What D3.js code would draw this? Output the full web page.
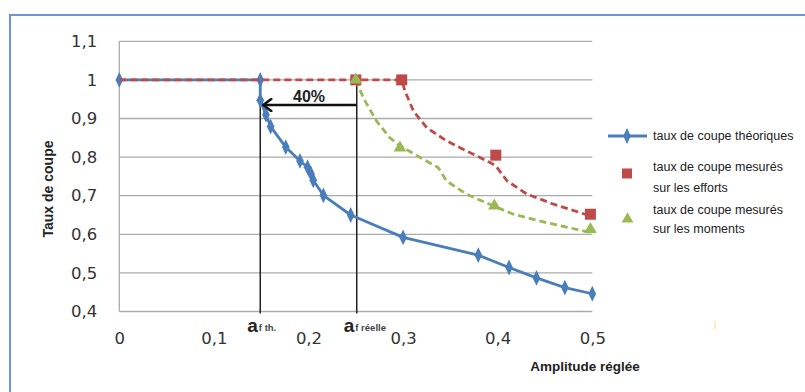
<!DOCTYPE html>
<html>
<head>
<meta charset="utf-8">
<script src="https://cdn.jsdelivr.net/npm/d3@7"></script>
<style>
body { margin: 0; background: #fff; }
</style>
</head>
<body>
<script>
// taux de coupe théoriques
var theoX = [0, 0.149, 0.149, 0.155, 0.160, 0.176, 0.191, 0.199, 0.2026, 0.205, 0.2157, 0.2446, 0.300, 0.3795, 0.412, 0.441, 0.471, 0.500];
var theoY = [1, 1, 0.947, 0.91, 0.879, 0.826, 0.790, 0.774, 0.757, 0.740, 0.701, 0.650, 0.592, 0.546, 0.514, 0.487, 0.462, 0.446];

// mesures (points)
var effortsX = [0.25, 0.2985, 0.398, 0.498];
var effortsY = [1, 1, 0.805, 0.652];
var momentsX = [0.25, 0.2967, 0.3965, 0.498];
var momentsY = [1, 0.824, 0.674, 0.613];

// courbes pointillées
var effortsLineX = [0, 0.2985, 0.302, 0.311, 0.325, 0.346, 0.371, 0.392, 0.398, 0.41, 0.431, 0.459, 0.4975];
var effortsLineY = [1, 1, 0.971, 0.919, 0.876, 0.842, 0.811, 0.786, 0.777, 0.738, 0.704, 0.678, 0.648];
var momentsLineX = [0.25, 0.258, 0.272, 0.286, 0.297, 0.318, 0.337, 0.346, 0.367, 0.395, 0.4165, 0.452, 0.4975];
var momentsLineY = [1, 0.953, 0.893, 0.850, 0.829, 0.799, 0.773, 0.738, 0.704, 0.674, 0.652, 0.630, 0.605];

var xTicks = [0, 0.1, 0.2, 0.3, 0.4, 0.5];
var yTicks = [0.4, 0.5, 0.6, 0.7, 0.8, 0.9, 1, 1.1];
var afTh = 0.149, afReelle = 0.251;
var legendLabels = [["taux de coupe théoriques"], ["taux de coupe mesurés", "sur les efforts"], ["taux de coupe mesurés", "sur les moments"]];

var width = 805, height = 392;
var blue = "#4a7ebb", red = "#be4b48", green = "#98b954";

var svg = d3.select("body").append("svg")
    .attr("width", width)
    .attr("height", height);

// cadre
svg.append("rect")
    .attr("x", 10).attr("y", 15)
    .attr("width", width + 20).attr("height", height + 20)
    .attr("fill", "none")
    .attr("stroke", "#6a97d2")
    .attr("stroke-width", 2);

var x = d3.scaleLinear().domain([0, 0.5]).range([119.3, 592.3]);
var y = d3.scaleLinear().domain([0.4, 1.1]).range([311.5, 41.3]);
var fmt = function(d) { return String(+d.toFixed(1)).replace(".", ","); };

// grille horizontale
svg.append("g")
    .selectAll("line")
    .data(yTicks)
    .enter()
    .append("line")
    .attr("x1", x(0)).attr("x2", x(0.5))
    .attr("y1", function(d) { return y(d); })
    .attr("y2", function(d) { return y(d); })
    .attr("stroke", "#ababab")
    .attr("stroke-width", 1.3);

svg.append("line")
    .attr("x1", x(0)).attr("x2", x(0))
    .attr("y1", y(1.1)).attr("y2", y(0.4))
    .attr("stroke", "#ababab")
    .attr("stroke-width", 1.3);

var yAxis = svg.append("g")
    .attr("transform", "translate(" + x(0) + ",0)")
    .call(d3.axisLeft(y).tickValues(yTicks).tickSize(0).tickPadding(22).tickFormat(fmt));
yAxis.select(".domain").remove();
yAxis.selectAll("text")
    .attr("font-family", "DejaVu Sans")
    .attr("font-size", "16.5px")
    .attr("fill", "#333");

var xAxis = svg.append("g")
    .attr("transform", "translate(0," + y(0.4) + ")")
    .call(d3.axisBottom(x).tickValues(xTicks).tickSize(0).tickPadding(21).tickFormat(fmt));
xAxis.select(".domain").remove();
xAxis.selectAll("text")
    .attr("font-family", "DejaVu Sans")
    .attr("font-size", "16.5px")
    .attr("fill", "#333");

// titres des axes
svg.append("text")
    .attr("transform", "translate(53,189) rotate(-90)")
    .attr("text-anchor", "middle")
    .attr("font-family", "Liberation Sans")
    .attr("font-weight", "bold")
    .attr("font-size", "14px")
    .attr("fill", "#222")
    .text("Taux de coupe");

svg.append("text")
    .attr("x", 585).attr("y", 371)
    .attr("text-anchor", "middle")
    .attr("font-family", "Liberation Sans")
    .attr("font-weight", "bold")
    .attr("font-size", "13.5px")
    .attr("fill", "#222")
    .text("Amplitude réglée");

// lignes verticales a_f
[afTh, afReelle].forEach(function(v) {
    svg.append("line")
        .attr("x1", x(v)).attr("x2", x(v))
        .attr("y1", y(1)).attr("y2", y(0.4) + 2)
        .attr("stroke", "#222")
        .attr("stroke-width", 1.5);
});

function afLabel(v, sub) {
    var t = svg.append("text")
        .attr("x", x(v) - 13).attr("y", 332)
        .attr("font-family", "Liberation Sans")
        .attr("font-weight", "bold")
        .attr("fill", "#222");
    t.append("tspan").attr("font-size", "19px").text("a");
    t.append("tspan").attr("font-size", "9.5px").attr("dx", 1).attr("dy", -1).attr("fill", "#444").text(sub);
}
afLabel(afTh, "f th.");
afLabel(afReelle, "f réelle");

var line = d3.line()
    .x(function(d) { return x(d[0]); })
    .y(function(d) { return y(d[1]); });

function zip(a, b) { return a.map(function(v, i) { return [v, b[i]]; }); }

// courbe théorique
svg.append("path")
    .datum(zip(theoX, theoY))
    .attr("d", line)
    .attr("fill", "none")
    .attr("stroke", blue)
    .attr("stroke-width", 2.8)
    .attr("stroke-linejoin", "round");

svg.append("g")
    .selectAll("path")
    .data(zip(theoX, theoY))
    .enter()
    .append("path")
    .attr("d", d3.symbol().type(d3.symbolDiamond).size(50))
    .attr("transform", function(d) { return "translate(" + x(d[0]) + "," + y(d[1]) + ") scale(1,1.2)"; })
    .attr("fill", blue);

// courbes pointillées
svg.append("path")
    .datum(zip(momentsLineX, momentsLineY))
    .attr("d", line)
    .attr("fill", "none")
    .attr("stroke", green)
    .attr("stroke-width", 2.8)
    .attr("stroke-dasharray", "7,4");

svg.append("path")
    .datum(zip(effortsLineX, effortsLineY))
    .attr("d", line)
    .attr("fill", "none")
    .attr("stroke", red)
    .attr("stroke-width", 2.8)
    .attr("stroke-dasharray", "7,4");

// points mesurés
svg.append("g")
    .selectAll("rect")
    .data(zip(effortsX, effortsY))
    .enter()
    .append("rect")
    .attr("x", function(d) { return x(d[0]) - 5.5; })
    .attr("y", function(d) { return y(d[1]) - 5.5; })
    .attr("width", 11).attr("height", 11)
    .attr("fill", red);

svg.append("g")
    .selectAll("path")
    .data(zip(momentsX, momentsY))
    .enter()
    .append("path")
    .attr("d", d3.symbol().type(d3.symbolTriangle).size(70))
    .attr("transform", function(d) { return "translate(" + x(d[0]) + "," + y(d[1]) + ")"; })
    .attr("fill", green);

// flèche 40%
svg.append("defs").append("marker")
    .attr("id", "head")
    .attr("viewBox", "0 0 12 14")
    .attr("refX", 10).attr("refY", 7)
    .attr("markerUnits", "userSpaceOnUse")
    .attr("markerWidth", 12).attr("markerHeight", 14)
    .attr("orient", "auto")
    .append("path")
    .attr("d", "M2,1 L10,7 L2,13")
    .attr("fill", "none")
    .attr("stroke", "#111")
    .attr("stroke-width", 2.6)
    .attr("stroke-linecap", "round")
    .attr("stroke-linejoin", "round");

svg.append("line")
    .attr("x1", x(afReelle)).attr("x2", x(afTh) + 3)
    .attr("y1", 105).attr("y2", 105)
    .attr("stroke", "#111")
    .attr("stroke-width", 2.5)
    .attr("marker-end", "url(#head)");

svg.append("text")
    .attr("x", 309).attr("y", 102)
    .attr("text-anchor", "middle")
    .attr("font-family", "Liberation Sans")
    .attr("font-weight", "bold")
    .attr("font-size", "16px")
    .attr("fill", "#222")
    .text("40%");

// légende
var lg = svg.append("g").attr("font-family", "Liberation Sans").attr("font-size", "12.5px").attr("fill", "#222");
lg.append("line").attr("x1", 608).attr("x2", 647).attr("y1", 136).attr("y2", 136)
    .attr("stroke", blue).attr("stroke-width", 2.8);
lg.append("path").attr("d", d3.symbol().type(d3.symbolDiamond).size(50))
    .attr("transform", "translate(627,136) scale(1,1.2)").attr("fill", blue);
lg.append("rect").attr("x", 622).attr("y", 168.5).attr("width", 10).attr("height", 10).attr("fill", red);
lg.append("path").attr("d", d3.symbol().type(d3.symbolTriangle).size(60))
    .attr("transform", "translate(627.5,219)").attr("fill", green);

var legendY = [[140], [171, 192], [214, 233]];
legendLabels.forEach(function(lines, i) {
    lines.forEach(function(s, j) {
        lg.append("text").attr("x", 653).attr("y", legendY[i][j]).text(s);
    });
});

// petit trait jaune
svg.append("line")
    .attr("x1", 715).attr("x2", 715).attr("y1", 321).attr("y2", 329)
    .attr("stroke", "#fde3a7").attr("stroke-width", 1.5);
</script>
</body>
</html>
